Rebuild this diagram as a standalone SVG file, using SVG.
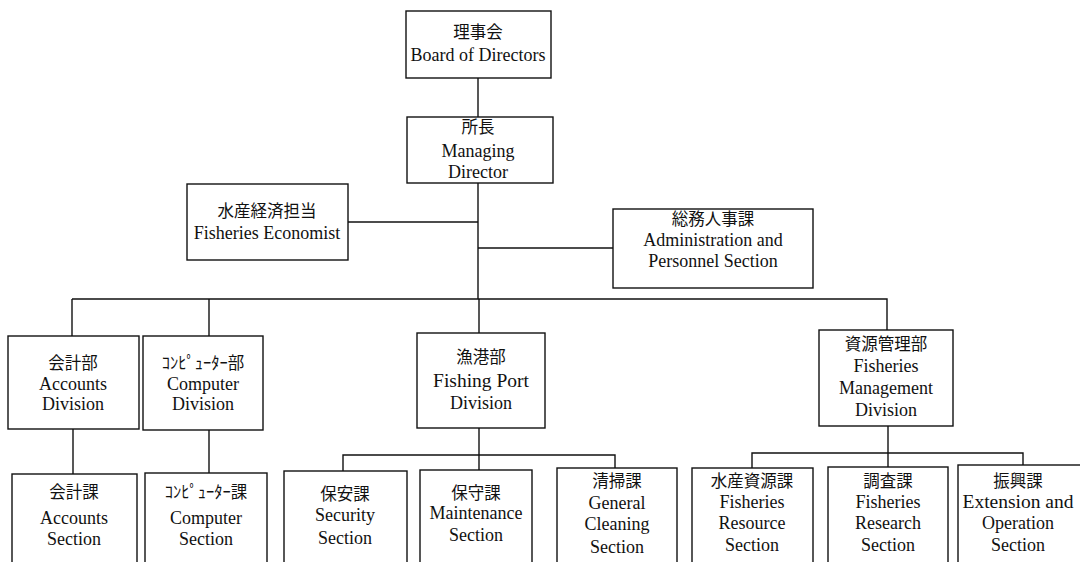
<svg xmlns="http://www.w3.org/2000/svg" width="1080" height="562" viewBox="0 0 1080 562">
<style>
.box{fill:#fff;stroke:#111;stroke-width:1.4}
.ln{fill:none;stroke:#111;stroke-width:1.4}
text{font-family:"Liberation Serif","Noto Sans CJK JP",serif;font-size:18px;fill:#111;text-anchor:middle}
.jp{font-family:"Noto Sans CJK JP","Liberation Serif",serif;font-size:16.5px}
.big{font-size:19.5px}
</style>
<rect width="1080" height="562" fill="#fff"/>
<g id="connectors">
<path class="ln" d="M478 78V117"/>
<path class="ln" d="M478 183V299"/>
<path class="ln" d="M348 222H478"/>
<path class="ln" d="M478 248H613"/>
<path class="ln" d="M72 299H887V330"/>
<path class="ln" d="M72 299V336"/>
<path class="ln" d="M209 299V336"/>
<path class="ln" d="M479 299V333"/>
<path class="ln" d="M73 429V474"/>
<path class="ln" d="M209 430V473"/>
<path class="ln" d="M479 428V470"/>
<path class="ln" d="M343 471V455H615V468"/>
<path class="ln" d="M888 426V467"/>
<path class="ln" d="M752 468V453H1023V465"/>
</g>
<g id="board">
<rect class="box" x="406" y="11" width="145" height="67"/>
<text class="jp" x="478" y="38">理事会</text>
<text x="478" y="61">Board of Directors</text>
</g>
<g id="managing">
<rect class="box" x="407" y="117" width="146" height="66"/>
<text class="jp" x="478" y="133">所長</text>
<text x="478" y="157">Managing</text>
<text x="478" y="178">Director</text>
</g>
<g id="economist">
<rect class="box" x="187" y="184" width="161" height="76"/>
<text class="jp" x="267" y="217">水産経済担当</text>
<text x="267" y="239">Fisheries Economist</text>
</g>
<g id="admin">
<rect class="box" x="613" y="209" width="200" height="79"/>
<text class="jp" x="713" y="225">総務人事課</text>
<text x="713" y="246">Administration and</text>
<text x="713" y="267">Personnel Section</text>
</g>
<g id="accounts-div">
<rect class="box" x="8" y="336" width="131" height="93"/>
<text class="jp" x="73" y="369">会計部</text>
<text x="73" y="390">Accounts</text>
<text x="73" y="410">Division</text>
</g>
<g id="computer-div">
<rect class="box" x="143" y="336" width="120" height="94"/>
<text class="jp" x="203" y="369">ｺﾝﾋﾟｭｰﾀｰ部</text>
<text x="203" y="390">Computer</text>
<text x="203" y="410">Division</text>
</g>
<g id="fishing-port">
<rect class="box" x="417" y="333" width="128" height="95"/>
<text class="jp" x="481" y="363">漁港部</text>
<text class="big" x="481" y="387">Fishing Port</text>
<text x="481" y="409">Division</text>
</g>
<g id="fisheries-mgmt">
<rect class="box" x="819" y="330" width="134" height="96"/>
<text class="jp" x="886" y="350">資源管理部</text>
<text x="886" y="372">Fisheries</text>
<text x="886" y="394">Management</text>
<text x="886" y="416">Division</text>
</g>
<g id="accounts-sec">
<rect class="box" x="12" y="474" width="125" height="100"/>
<text class="jp" x="74" y="498">会計課</text>
<text x="74" y="524">Accounts</text>
<text x="74" y="545">Section</text>
</g>
<g id="computer-sec">
<rect class="box" x="145" y="473" width="122" height="100"/>
<text class="jp" x="206" y="498">ｺﾝﾋﾟｭｰﾀｰ課</text>
<text x="206" y="524">Computer</text>
<text x="206" y="545">Section</text>
</g>
<g id="security">
<rect class="box" x="284" y="471" width="123" height="100"/>
<text class="jp" x="345" y="500">保安課</text>
<text x="345" y="521">Security</text>
<text x="345" y="544">Section</text>
</g>
<g id="maintenance">
<rect class="box" x="420" y="470" width="112" height="100"/>
<text class="jp" x="476" y="499">保守課</text>
<text x="476" y="519">Maintenance</text>
<text x="476" y="541">Section</text>
</g>
<g id="cleaning">
<rect class="box" x="557" y="468" width="120" height="100"/>
<text class="jp" x="617" y="487">清掃課</text>
<text x="617" y="509">General</text>
<text x="617" y="530">Cleaning</text>
<text x="617" y="553">Section</text>
</g>
<g id="resource">
<rect class="box" x="692" y="468" width="121" height="100"/>
<text class="jp" x="752" y="487">水産資源課</text>
<text x="752" y="508">Fisheries</text>
<text x="752" y="529">Resource</text>
<text x="752" y="551">Section</text>
</g>
<g id="research">
<rect class="box" x="828" y="467" width="120" height="100"/>
<text class="jp" x="888" y="487">調査課</text>
<text x="888" y="508">Fisheries</text>
<text x="888" y="529">Research</text>
<text x="888" y="551">Section</text>
</g>
<g id="extension">
<rect class="box" x="958" y="465" width="130" height="100"/>
<text class="jp" x="1018" y="487">振興課</text>
<text class="big" x="1018" y="508">Extension and</text>
<text x="1018" y="529">Operation</text>
<text x="1018" y="551">Section</text>
</g>
</svg>
